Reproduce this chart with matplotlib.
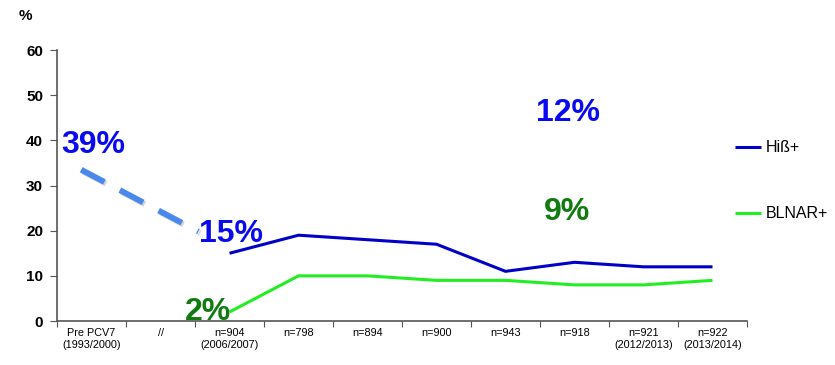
import matplotlib.pyplot as plt
import matplotlib.patheffects as pe

# Categories on the x axis (first two are the pre-vaccine reference and the break)
categories = ["Pre PCV7\n(1993/2000)", "//", "n=904\n(2006/2007)", "n=798", "n=894",
              "n=900", "n=943", "n=918", "n=921\n(2012/2013)", "n=922\n(2013/2014)"]

# Resistance rates in %, measured from 2006/2007 onwards
hib_pos = [15, 19, 18, 17, 11, 13, 12, 12]
blnar_pos = [2, 10, 10, 9, 9, 8, 8, 9]
measured = list(range(2, 10))

# Pre PCV7 trend (39% -> 15%), drawn as a dashed guide
trend_x = [-0.15, 1.55]
trend_y = [33.5, 19.8]

font = ["Liberation Sans Narrow", "Liberation Sans", "DejaVu Sans"]
plt.rcParams["font.family"] = font

fig = plt.figure(figsize=(8.35, 3.65), dpi=100)
ax = fig.add_axes([0.0683, 0.1205, 0.8263, 0.7425])

ax.plot(measured, hib_pos, color="#0000c8", lw=2.2, label="Hiß+", solid_capstyle="butt")
ax.plot(measured, blnar_pos, color="#22ee22", lw=2.2, label="BLNAR+", solid_capstyle="butt")

ax.plot(trend_x, trend_y, color="#4a88ee", lw=4.2, dashes=(4.5, 3.0),
        solid_capstyle="butt",
        path_effects=[pe.SimpleLineShadow(offset=(1.2, -1.2), alpha=0.35, shadow_color="gray"),
                      pe.Normal()])

big = dict(fontsize=23, fontweight="bold", ha="center", va="baseline")
ax.text(0.02, 37.2, "39%", color="#0a0aee", **big)
ax.text(2.02, 17.6, "15%", color="#0a0aee", **big)
ax.text(1.69, 0.3, "2%", color="#117a11", **big)
ax.text(6.9, 44.2, "12%", color="#0a0aee", **big)
ax.text(6.89, 22.4, "9%", color="#117a11", **big)

ax.set_xlim(-0.5, 9.5)
ax.set_ylim(0, 60)
ax.set_yticks(range(0, 61, 10))
ax.set_yticklabels([str(v) for v in range(0, 61, 10)], fontsize=11, fontweight="bold")
ax.set_xticks([i - 0.5 for i in range(11)])
ax.set_xticklabels([])
ax.set_xticks(range(10), minor=True)
ax.set_xticklabels(categories, minor=True, fontsize=7.8, linespacing=1.3)
ax.tick_params(axis="x", which="minor", length=0, pad=5)
ax.tick_params(axis="x", which="major", length=4, color="#555555", direction="out")
ax.tick_params(axis="y", length=5, color="#555555", pad=5)

for side in ["top", "right"]:
    ax.spines[side].set_visible(False)
for side in ["left", "bottom"]:
    ax.spines[side].set_color("#555555")
    ax.spines[side].set_linewidth(1.2)

fig.text(0.022, 0.955, "%", fontsize=11, fontweight="bold", va="center")

leg = fig.legend(loc="upper left", bbox_to_anchor=(0.863, 0.655), frameon=False,
                 fontsize=11.5, handlelength=1.6, handletextpad=0.3, labelspacing=3.2)

fig.savefig("out.png", dpi=100)
